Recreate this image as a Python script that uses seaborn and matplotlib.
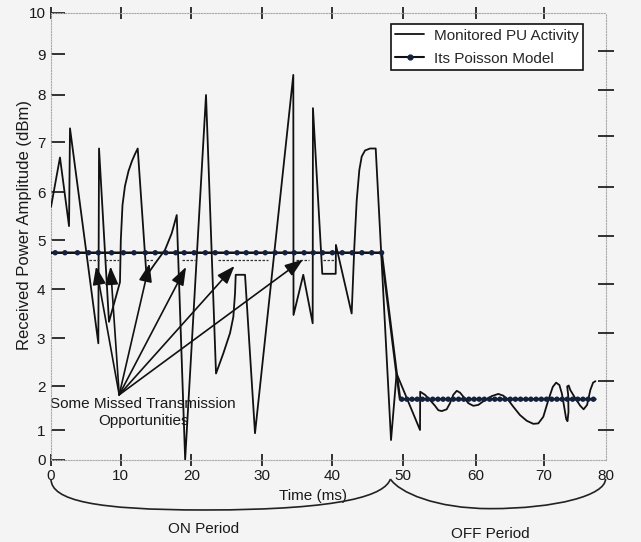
import numpy as np
import pandas as pd
import matplotlib

matplotlib.use("Agg")

import matplotlib.pyplot as plt
import seaborn as sns
from matplotlib import transforms
from matplotlib.lines import Line2D
from matplotlib.patches import PathPatch
from matplotlib.path import Path


# Monitored PU activity, time (ms) and received power (dBm)
pu_time = [
    0.0, 1.29, 2.59, 2.73, 6.80, 6.90, 8.33, 9.91, 10.03, 10.27, 10.62, 11.12, 11.61, 12.04, 12.42,
    13.66, 14.87, 16.29, 17.23, 17.94, 19.13, 22.09, 23.51, 24.55, 25.50, 25.97, 26.21, 26.31, 27.63, 29.05,
    34.47, 34.50, 35.88, 37.21, 37.25, 38.57, 40.47, 40.50, 42.74, 43.12, 43.46, 43.83, 44.17, 44.64, 45.35, 46.16,
    48.34, 49.13, 52.38, 52.40, 53.06, 53.75, 54.44, 54.89, 55.36, 56.04, 56.50, 56.95, 57.42, 57.87,
    58.32, 59.01, 59.70, 60.41, 61.39, 62.38, 63.34, 64.08, 64.81, 65.54, 66.52, 67.51, 68.48, 69.21,
    69.94, 70.75, 71.47, 72.01, 72.54, 72.94, 73.31, 73.64, 73.85, 74.01, 73.96, 73.80, 74.05, 74.30,
    75.11, 75.92, 76.46, 77.02, 77.55, 77.99, 78.37,
]
pu_power = [
    5.69, 6.69, 5.29, 7.29, 2.89, 6.87, 3.33, 4.14, 5.00, 5.73, 6.12, 6.42, 6.62, 6.76, 6.87,
    4.27, 4.52, 4.80, 5.14, 5.52, 0.00, 8.00, 2.26, 2.68, 3.10, 3.43, 3.91, 4.29, 4.29, 0.89,
    8.49, 3.47, 4.29, 3.30, 7.72, 4.31, 4.31, 4.90, 3.50, 4.86, 5.83, 6.44, 6.71, 6.83, 6.87, 6.87,
    0.66, 2.26, 1.00, 1.87, 1.80, 1.68, 1.55, 1.45, 1.43, 1.47, 1.61, 1.80, 1.89, 1.85,
    1.76, 1.61, 1.55, 1.57, 1.68, 1.77, 1.82, 1.78, 1.68, 1.53, 1.34, 1.21, 1.14, 1.15,
    1.30, 1.68, 1.98, 2.07, 2.02, 1.83, 1.53, 1.25, 1.20, 1.41, 1.80, 1.99, 2.01, 1.91,
    1.72, 1.55, 1.47, 1.57, 1.91, 2.07, 2.10,
]

# Poisson model of the activity
poisson_time = [0.0, 47.0, 49.13, 49.62, 78.37]
poisson_power = [4.74, 4.74, 2.26, 1.70, 1.70]
on_level = 4.74
off_level = 1.70
on_dot_time = [
    0.6, 2.0, 3.8, 5.4, 6.8, 8.7, 10.4, 11.9, 13.5, 14.9, 16.4, 17.8, 19.0, 20.4, 22.0, 23.4, 25.0,
    26.5, 27.8, 29.2, 30.5, 31.9, 33.3, 34.6, 36.0, 37.3, 38.6, 40.0, 41.4, 42.8, 44.2, 45.6, 47.0,
]
off_dot_time = [
    49.86, 50.58, 51.28, 51.99, 52.71, 53.41, 54.12, 54.84, 55.55, 56.25, 56.96, 57.68, 58.38,
    59.09, 59.81, 60.54, 61.30, 62.07, 62.83, 63.58, 64.34, 65.10, 65.85, 66.61, 67.38, 68.12,
    68.89, 69.65, 70.46, 71.29, 72.14, 72.99, 73.82, 74.67, 75.51, 76.35, 77.19, 78.04,
]

# missed transmission opportunities (dashed pieces under the model)
missed_start = [5.46, 7.76, 13.59, 18.64, 23.84, 34.81, 38.70]
missed_end = [6.90, 9.70, 14.65, 20.53, 30.93, 36.73, 40.47]
missed_level = [4.60, 4.60, 4.60, 4.60, 4.60, 4.60, 4.60]

arrow_origin = (9.8, 1.80)
arrow_tip_time = [6.47, 8.55, 14.09, 19.26, 26.14, 35.83]
arrow_tip_power = [4.46, 4.46, 4.52, 4.45, 4.47, 4.60]

x_ticks = [0, 10, 20, 30, 40, 50, 60, 70, 80]
y_ticks = [0, 1, 2, 3, 4, 5, 6, 7, 8, 9, 10]
right_ticks = [1.0, 2.1, 3.11, 4.1, 5.09, 6.11, 7.13, 8.13, 9.08]

# the source picture is unevenly stretched: pixel place of every tick
X_TICK_PX = np.array([51.0, 120.6, 191.3, 261.7, 332.4, 402.7, 475.5, 543.7, 605.5])
Y_TICK_PX = np.array([459.5, 430.0, 386.0, 338.0, 289.0, 240.0, 192.0, 142.0, 95.0, 54.0, 12.8])


def x_fwd(v):
    return np.interp(v, x_ticks, X_TICK_PX)


def x_inv(p):
    return np.interp(p, X_TICK_PX, x_ticks)


def y_fwd(v):
    return -np.interp(v, y_ticks, Y_TICK_PX)


def y_inv(p):
    return np.interp(p, -Y_TICK_PX, y_ticks)


def brace_path(x0, xm, x1, top, bot, c0, c1, c2, c3, k0, k1):
    # two cubic pieces: down from (x0, top) to (xm, bot), back up to (x1, top)
    verts = [
        (x0, top), (c0, top + k0 * (bot - top)), (c1, bot), (xm, bot),
        (c2, bot), (c3, top + k1 * (bot - top)), (x1, top),
    ]
    codes = [Path.MOVETO] + [Path.CURVE4] * 6
    return Path(verts, codes)


BG = "#f4f4f4"
INK = "#1a1a1a"

sns.set_theme(style="white")
plt.rcParams["font.family"] = ["Liberation Sans", "DejaVu Sans"]

fig = plt.figure(figsize=(6.41, 5.42), dpi=100, facecolor=BG)
ax = fig.add_axes([51.0 / 641, 1 - 459.5 / 542, 554.5 / 641, 446.7 / 542])
ax.set_facecolor(BG)
ax.set_xscale("function", functions=(x_fwd, x_inv))
ax.set_yscale("function", functions=(y_fwd, y_inv))

pu = pd.DataFrame({"time": pu_time, "power": pu_power})
sns.lineplot(data=pu, x="time", y="power", sort=False, estimator=None,
             color="#111111", lw=1.3, ax=ax, zorder=3)
sns.lineplot(x=poisson_time, y=poisson_power, sort=False, estimator=None,
             color="#111111", lw=1.8, ax=ax, zorder=4)
dots = pd.DataFrame({
    "time": on_dot_time + off_dot_time,
    "power": [on_level] * len(on_dot_time) + [off_level] * len(off_dot_time),
})
sns.scatterplot(data=dots, x="time", y="power", s=15, color="#14203d",
                edgecolor="none", linewidth=0, ax=ax, zorder=5)

ax.hlines(missed_level, missed_start, missed_end, colors="#333333",
          linestyles=(0, (2, 1.2)), lw=0.9, zorder=3)

for tx, ty in zip(arrow_tip_time, arrow_tip_power):
    ax.annotate("", xy=(tx, ty), xytext=arrow_origin,
                arrowprops=dict(arrowstyle="-|>,head_length=0.55,head_width=0.2",
                                mutation_scale=20, color="#111111", lw=1.2,
                                shrinkA=0, shrinkB=0), zorder=6)

ax.text(13.17, 1.40, "Some Missed Transmission\nOpportunities", ha="center", va="center",
        multialignment="center", fontsize=11, color=INK, linespacing=1.3, zorder=2)

# braces under the time axis (x in ms, y in axes fraction)
brace_tf = transforms.blended_transform_factory(ax.transData, ax.transAxes)
on_brace = brace_path(0, 21.8, 48.25, -0.0437, -0.113, 0, 6.5, 42.0, 47.5, 0.7, 0.5)
off_brace = brace_path(48.25, 62.2, 80, -0.0437, -0.110, 49.5, 54.5, 72.0, 80, 0.45, 0.55)
for path in (on_brace, off_brace):
    ax.add_patch(PathPatch(path, transform=brace_tf, fill=False, lw=1.2,
                           ec="#222222", clip_on=False))
ax.text(21.8, -0.156, "ON Period", transform=brace_tf, ha="center", va="center",
        fontsize=11, color=INK)
ax.text(62.2, -0.167, "OFF Period", transform=brace_tf, ha="center", va="center",
        fontsize=11, color=INK)

ax.set_xlim(0, 80)
ax.set_ylim(0, 10)
ax.set_xticks(x_ticks)
ax.set_yticks(y_ticks)
ax.set_xlabel("Time (ms)", fontsize=11, color=INK)
ax.set_ylabel("Received Power Amplitude (dBm)", fontsize=12, color=INK)
ax.xaxis.label.set_verticalalignment("center")
ax.yaxis.label.set_verticalalignment("center")
ax.xaxis.set_label_coords(0.473, -0.082)
ax.yaxis.set_label_coords(-0.047, 0.525)

ax.tick_params(axis="x", direction="inout", length=8.5, width=1.3, color="#222222",
               top=True, bottom=True, pad=2.5, labelsize=11, labelcolor=INK)
ax.tick_params(axis="y", direction="in", length=10, width=1.3, color="#222222",
               left=True, right=False, pad=4, labelsize=11, labelcolor=INK)
last_x = ax.xaxis.get_major_ticks()[-1]
last_x.tick1line.set_visible(False)
last_x.tick2line.set_visible(False)
ax.yaxis.get_major_ticks()[0].tick1line.set_visible(False)

for spine in ax.spines.values():
    spine.set_linestyle((0, (1, 1.5)))
    spine.set_color("#aaaaaa")
    spine.set_linewidth(0.8)

ax2 = ax.twinx()
ax2.set_yscale("function", functions=(y_fwd, y_inv))
ax2.set_ylim(0, 10)
ax2.set_yticks(right_ticks)
ax2.set_yticklabels([])
ax2.tick_params(axis="y", direction="inout", length=12, width=1.3, color="#222222")
for spine in ax2.spines.values():
    spine.set_visible(False)

handles = [
    Line2D([], [], color="#111111", lw=1.3),
    Line2D([], [], color="#111111", lw=1.5, marker="o", markersize=3.5,
           markerfacecolor="#14203d", markeredgecolor="#14203d"),
]
leg = ax2.legend(handles, ["Monitored PU Activity", "Its Poisson Model"], loc="upper right",
                 bbox_to_anchor=(0.9594, 0.975), borderaxespad=0, fancybox=False,
                 frameon=True, framealpha=1, facecolor="white", edgecolor="#111111",
                 fontsize=11, handlelength=1.9, handletextpad=0.6, labelspacing=0.6,
                 borderpad=0.3)
leg.get_frame().set_linewidth(1.2)

fig.savefig("out.png", dpi=100, facecolor=BG)
